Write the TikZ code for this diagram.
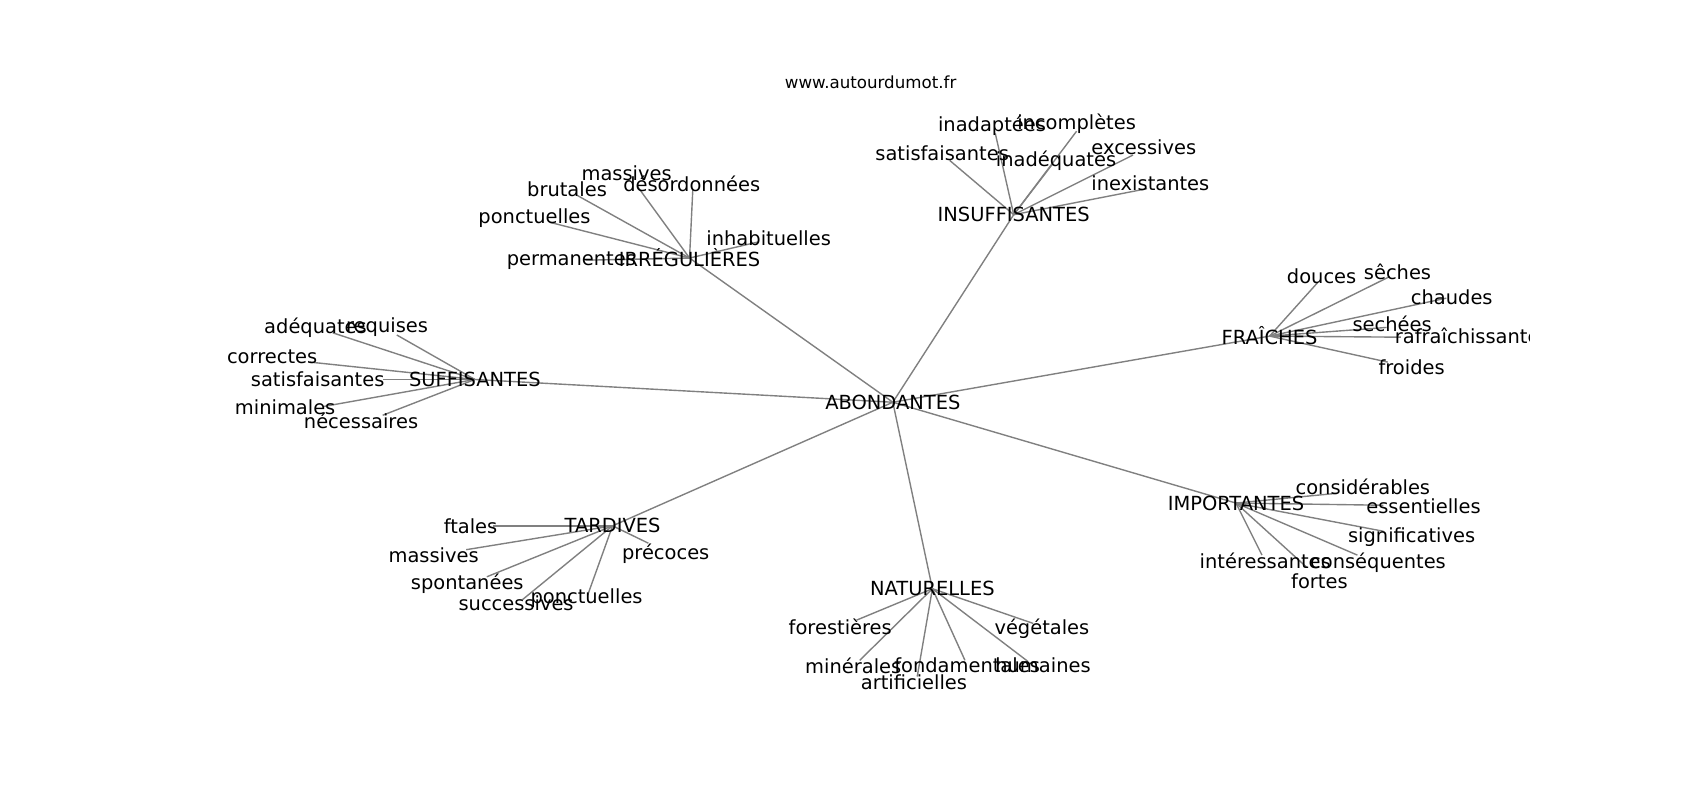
\documentclass[tikz,border=0pt]{standalone}
\usepackage{fontspec}
\setmainfont{DejaVu Sans}
\pgfdeclarelayer{bg}
\pgfdeclarelayer{paper}
\pgfsetlayers{paper,bg,main}
\tikzset{
  lbl/.style={font=\fontsize{14}{16}\selectfont, inner sep=0pt, text=black},
  ttl/.style={font=\fontsize{12}{14}\selectfont, inner sep=0pt, text=black},
  edge/.style={draw=gray, line width=1pt}
}
\newcommand\mkleaf[6]{% hub, name, x, y, ex, ey, text
  \node[lbl] (#2) at (#3,#4) {#6};
  \coordinate (#2-e) at (#5);
  \begin{pgfonlayer}{bg}\draw[edge] (#1.center) -- (#2-e);\end{pgfonlayer}
}
\begin{document}
\begin{tikzpicture}[x=0.7806pt,y=-0.7806pt]
\begin{pgfonlayer}{paper}
\fill[white] (0,0) rectangle (1568,738);
\end{pgfonlayer}
\useasboundingbox (0,0) rectangle (1568,738);
\node[ttl] (title) at (803,76) {www.autourdumot.fr};
\begin{scope}
\clip (196,88.5) rectangle (1411,657);
% hubs
\node[lbl] (abo) at (823.5,371) {ABONDANTES};
\node[lbl] (irr) at (636,238) {IRRÉGULIÈRES};
\node[lbl] (ins) at (935,198) {INSUFFISANTES};
\node[lbl] (suf) at (438,350) {SUFFISANTES};
\node[lbl] (fra) at (1171,310) {FRAÎCHES};
\node[lbl] (imp) at (1140,464) {IMPORTANTES};
\node[lbl] (tar) at (565,485) {TARDIVES};
\node[lbl] (nat) at (860,543) {NATURELLES};
\begin{pgfonlayer}{bg}
\foreach \h in {irr,ins,suf,fra,imp,tar,nat} \draw[edge] (abo.center) -- (\h.center);
\end{pgfonlayer}
% IRRÉGULIÈRES
\mkleaf{irr}{massivesa}{578}{160}{588,172}{massives}
\mkleaf{irr}{desordonnees}{638}{170}{639,175}{désordonnées}
\mkleaf{irr}{brutales}{523}{175}{532,180}{brutales}
\mkleaf{irr}{ponctuellesa}{493}{201}{507,205}{ponctuelles}
\mkleaf{irr}{permanentes}{527}{240}{540,240}{permanentes}
\mkleaf{irr}{inhabituelles}{709}{220}{700,223}{inhabituelles}
% INSUFFISANTES
\mkleaf{ins}{inadaptees}{915}{116}{918,123}{inadaptées}
\mkleaf{ins}{incompletes}{993}{114}{993,121}{incomplètes}
\mkleaf{ins}{satisfaisantesa}{869}{141}{876,148}{satisfaisantes}
\mkleaf{ins}{inadequates}{974}{148}{971,151}{inadéquates}
\mkleaf{ins}{excessives}{1055}{136}{1045,143}{excessives}
\mkleaf{ins}{inexistantes}{1061}{169}{1058,174}{inexistantes}
% SUFFISANTES
\mkleaf{suf}{adequates}{291}{302}{307,307}{adéquates}
\mkleaf{suf}{requises}{357}{302}{366,309}{requises}
\mkleaf{suf}{correctes}{251}{329}{286,334}{correctes}
\mkleaf{suf}{satisfaisantesb}{293}{350}{353,350}{satisfaisantes}
\mkleaf{suf}{minimales}{263}{376}{298,375}{minimales}
\mkleaf{suf}{necessaires}{333}{388}{353,383}{nécessaires}
% FRAÎCHES
\mkleaf{fra}{douces}{1219}{255}{1215,261}{douces}
\mkleaf{fra}{seches}{1289}{251}{1282,255}{sêches}
\mkleaf{fra}{chaudes}{1339}{274}{1334,275}{chaudes}
\mkleaf{fra}{sechees}{1284}{299}{1279,302}{sechées}
\mkleaf{fra}{rafraichissantes}{1358}{310}{1292,311}{rafraîchissantes}
\mkleaf{fra}{froides}{1302}{339}{1280,334}{froides}
% IMPORTANTES
\mkleaf{imp}{considerables}{1257}{449}{1233,455}{considérables}
\mkleaf{imp}{essentielles}{1313}{467}{1276,466}{essentielles}
\mkleaf{imp}{significatives}{1302}{495}{1276,490}{significatives}
\mkleaf{imp}{consequentes}{1271}{519}{1252,512}{conséquentes}
\mkleaf{imp}{interessantes}{1167}{517}{1164,512}{intéressantes}
\mkleaf{imp}{fortes}{1217}{536}{1205,523}{fortes}
% TARDIVES
\mkleaf{tar}{ftales}{434}{485}{455,485}{ftales}
\mkleaf{tar}{massivesb}{400}{512}{430,507}{massives}
\mkleaf{tar}{spontanees}{431}{538}{449,532}{spontanées}
\mkleaf{tar}{successives}{476}{556}{482,553}{successives}
\mkleaf{tar}{ponctuellesb}{541}{552}{542,549}{ponctuelles}
\mkleaf{tar}{precoces}{614}{511}{598,501}{précoces}
% NATURELLES
\mkleaf{nat}{forestieres}{775}{578}{790,572}{forestières}
\mkleaf{nat}{vegetales}{961}{580}{953,575}{végétales}
\mkleaf{nat}{minerales}{787}{614}{793,609}{minérales}
\mkleaf{nat}{fondamentales}{892}{614}{890,609}{fondamentales}
\mkleaf{nat}{humaines}{962}{614}{948,610}{humaines}
\mkleaf{nat}{artificielles}{843}{629}{846,624}{artificielles}
\end{scope}
\end{tikzpicture}
\end{document}
